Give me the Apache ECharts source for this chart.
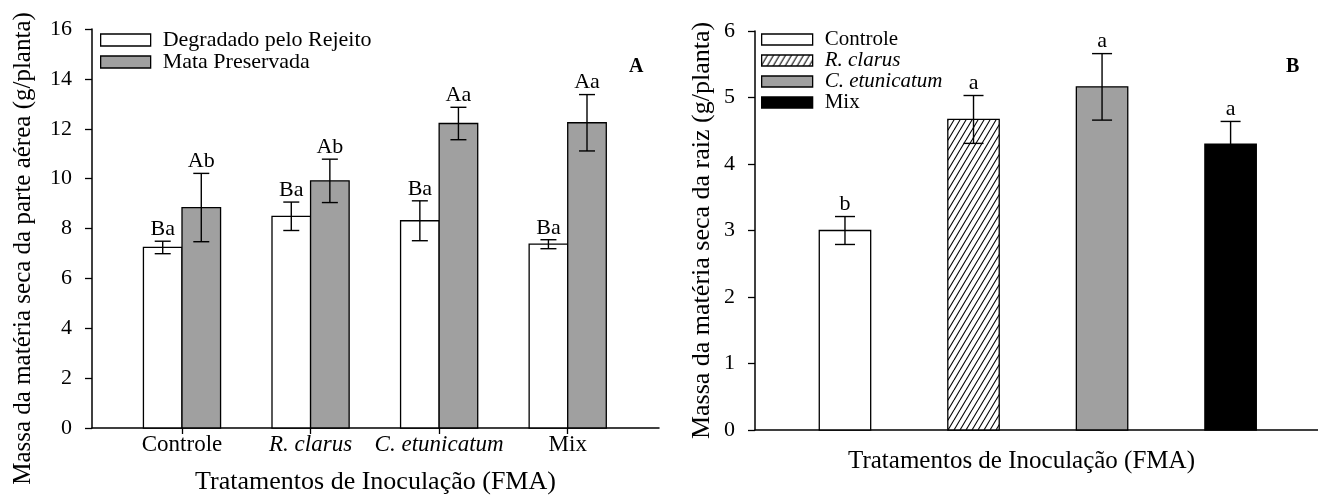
<!DOCTYPE html>
<html>
<head>
<meta charset="utf-8">
<script src="https://cdn.jsdelivr.net/npm/echarts@6/dist/echarts.min.js"></script>
<style>
html,body{margin:0;padding:0;background:#fff;}
#chart{width:1318px;height:496px;}
</style>
</head>
<body>
<div id="chart"></div>
<script>
// ---- Data ----
const categories = ['Controle', 'R. clarus', 'C. etunicatum', 'Mix'];
const italicCats = ['R. clarus', 'C. etunicatum'];
// Panel A: shoot dry mass (g/plant)
const degradado = [7.24, 8.49, 8.31, 7.37];
const degradadoSE = [0.25, 0.57, 0.80, 0.18];
const degradadoLetters = ['Ba', 'Ba', 'Ba', 'Ba'];
const preservada = [8.84, 9.91, 12.21, 12.24];
const preservadaSE = [1.37, 0.87, 0.65, 1.13];
const preservadaLetters = ['Ab', 'Ab', 'Aa', 'Aa'];
// Panel B: root dry mass (g/plant)
const raiz = [3.00, 4.67, 5.16, 4.30];
const raizSE = [0.21, 0.36, 0.50, 0.34];
const raizLetters = ['b', 'a', 'a', 'a'];
const seriesNamesA = ['Degradado pelo Rejeito', 'Mata Preservada'];
const yTitleA = 'Massa da matéria seca da parte aérea (g/planta)';
const yTitleB = 'Massa da matéria seca da raiz (g/planta)';
const xTitle = 'Tratamentos de Inoculação (FMA)';

const FONT = '"Liberation Serif", "Times New Roman", serif';
const GRAY = '#a0a0a0';

// hatch pattern for R. clarus
function makeHatch() {
  const w = 6, h = 10;
  const c = document.createElement('canvas');
  c.width = w; c.height = h;
  const ctx = c.getContext('2d');
  ctx.fillStyle = '#fff';
  ctx.fillRect(0, 0, w, h);
  ctx.strokeStyle = '#000';
  ctx.lineWidth = 1.1;
  for (let k = -1; k <= 1; k++) {
    ctx.beginPath();
    ctx.moveTo(k * w, h);
    ctx.lineTo(k * w + w, 0);
    ctx.stroke();
  }
  return c;
}
const hatch = { image: makeHatch(), repeat: 'repeat' };
const fillsB = ['#ffffff', hatch, GRAY, '#000000'];

// renderItem factory: offset (in x units) of bar left edge from category center, bar width in units
function makeRender(offset, width, capPx, fill) {
  return function (params, api) {
    const x = api.value(0), v = api.value(1), se = api.value(2);
    const letter = api.value(3);
    const p0 = api.coord([x + offset, 0]);
    const p1 = api.coord([x + offset + width, v]);
    const cx = api.coord([x + offset + width / 2, 0])[0];
    const yHi = api.coord([x, v + se])[1];
    const yLo = api.coord([x, v - se])[1];
    const lineStyle = { stroke: '#000', lineWidth: 1.4 };
    return {
      type: 'group',
      children: [
        { type: 'rect', shape: { x: p0[0], y: p1[1], width: p1[0] - p0[0], height: p0[1] - p1[1] },
          style: { fill: fill, stroke: '#000', lineWidth: 1.3 } },
        { type: 'line', shape: { x1: cx, y1: yLo, x2: cx, y2: yHi }, style: lineStyle },
        { type: 'line', shape: { x1: cx - capPx / 2, y1: yHi, x2: cx + capPx / 2, y2: yHi }, style: lineStyle },
        { type: 'line', shape: { x1: cx - capPx / 2, y1: yLo, x2: cx + capPx / 2, y2: yLo }, style: lineStyle },
        { type: 'text', x: cx, y: yHi - 1,
          style: { text: letter, fill: '#000', font: '22px ' + FONT, align: 'center', verticalAlign: 'bottom' } }
      ]
    };
  };
}

function toData(vals, ses, letters) {
  return vals.map((v, i) => [i + 1, v, ses[i], letters[i]]);
}

const BW_A = 0.3, BW_B = 0.4;

const series = [
  {
    type: 'custom', name: seriesNamesA[0], xAxisIndex: 0, yAxisIndex: 0,
    itemStyle: { color: '#ffffff', borderColor: '#000', borderWidth: 1.3 },
    renderItem: makeRender(-BW_A, BW_A, 16, '#ffffff'),
    encode: { x: 0, y: 1 }, clip: false,
    data: toData(degradado, degradadoSE, degradadoLetters)
  },
  {
    type: 'custom', name: seriesNamesA[1], xAxisIndex: 0, yAxisIndex: 0,
    itemStyle: { color: GRAY, borderColor: '#000', borderWidth: 1.3 },
    renderItem: makeRender(0, BW_A, 16, GRAY),
    encode: { x: 0, y: 1 }, clip: false,
    data: toData(preservada, preservadaSE, preservadaLetters)
  }
];
categories.forEach((c, i) => {
  series.push({
    type: 'custom', name: c, xAxisIndex: 1, yAxisIndex: 1,
    itemStyle: { color: fillsB[i], borderColor: '#000', borderWidth: 1.3 },
    renderItem: makeRender(-BW_B / 2, BW_B, 20, fillsB[i]),
    encode: { x: 0, y: 1 }, clip: false,
    data: [[i + 1, raiz[i], raizSE[i], raizLetters[i]]]
  });
});

const axisLine = { show: true, lineStyle: { color: '#000', width: 1.5 } };
const tickLabelStyle = { color: '#000', fontFamily: FONT, fontSize: 22 };

const option = {
  backgroundColor: '#fff',
  animation: false,
  title: [
    { text: 'A', left: 624, top: 52, textStyle: { fontFamily: FONT, fontWeight: 'bold', fontSize: 20, color: '#000' } },
    { text: 'B', left: 1281, top: 52, textStyle: { fontFamily: FONT, fontWeight: 'bold', fontSize: 20, color: '#000' } }
  ],
  legend: [
    {
      data: seriesNamesA, left: 95, top: 24, orient: 'vertical',
      icon: 'rect', itemWidth: 50, itemHeight: 12, itemGap: 0,
      itemStyle: { borderColor: '#000', borderWidth: 1.3 },
      textStyle: { fontFamily: FONT, fontSize: 22, color: '#000', lineHeight: 22, padding: [0, 0, 0, 7] },
      selectedMode: false
    },
    {
      data: categories, left: 756, top: 24, orient: 'vertical',
      icon: 'rect', itemWidth: 51, itemHeight: 11, itemGap: 0,
      itemStyle: { borderColor: '#000', borderWidth: 1.3 },
      formatter: n => italicCats.includes(n) ? '{i|' + n + '}' : n,
      textStyle: { fontFamily: FONT, fontSize: 21, color: '#000', lineHeight: 20, padding: [0, 0, 0, 7],
        rich: { i: { fontFamily: FONT, fontSize: 21, fontStyle: 'italic', color: '#000', lineHeight: 20 } } },
      selectedMode: false
    }
  ],
  grid: [
    { left: 92, top: 29, width: 567, height: 399, containLabel: false, outerBoundsMode: 'none' },
    { left: 755, top: 31, width: 563, height: 399, containLabel: false, outerBoundsMode: 'none' }
  ],
  xAxis: [
    {
      type: 'value', gridIndex: 0, min: 0.3, max: 4.71,
      axisLine: axisLine, splitLine: { show: false },
      axisTick: { show: true, inside: false, length: 6, customValues: [1, 2, 3, 4], lineStyle: { color: '#000', width: 1.3 } },
      axisLabel: {
        show: true, customValues: [1, 2, 3, 4], margin: 5,
        formatter: v => {
          const n = categories[Math.round(v) - 1];
          return italicCats.includes(n) ? '{i|' + n + '}' : n;
        },
        color: '#000', fontFamily: FONT, fontSize: 23,
        rich: { i: { fontFamily: FONT, fontSize: 23, fontStyle: 'italic', color: '#000' } }
      },
      name: xTitle, nameLocation: 'middle', nameGap: 41,
      nameTextStyle: { fontFamily: FONT, fontSize: 26, color: '#000' }
    },
    {
      type: 'value', gridIndex: 1, min: 0.3, max: 4.68,
      axisLine: axisLine, splitLine: { show: false },
      axisTick: { show: false }, axisLabel: { show: false },
      name: xTitle, nameLocation: 'middle', nameGap: 19,
      nameTextStyle: { fontFamily: FONT, fontSize: 25, color: '#000', padding: [0, 30, 0, 0] }
    }
  ],
  yAxis: [
    {
      type: 'value', gridIndex: 0, min: 0, max: 16, interval: 2,
      axisLine: axisLine, splitLine: { show: false },
      axisTick: { show: true, inside: false, length: 7, lineStyle: { color: '#000', width: 1.3 } },
      axisLabel: { margin: 20, ...tickLabelStyle },
      name: yTitleA, nameLocation: 'middle', nameGap: 56, nameRotate: 90,
      nameTextStyle: { fontFamily: FONT, fontSize: 25, color: '#000', padding: [0, 40, 0, 0] }
    },
    {
      type: 'value', gridIndex: 1, min: 0, max: 6, interval: 1,
      axisLine: axisLine, splitLine: { show: false },
      axisTick: { show: true, inside: false, length: 7, lineStyle: { color: '#000', width: 1.3 } },
      axisLabel: { margin: 20, ...tickLabelStyle },
      name: yTitleB, nameLocation: 'middle', nameGap: 40, nameRotate: 90,
      nameTextStyle: { fontFamily: FONT, fontSize: 26, color: '#000' }
    }
  ],
  series: series
};

const chart = echarts.init(document.getElementById('chart'), null, { renderer: 'canvas' });
chart.setOption(option);
</script>
</body>
</html>
